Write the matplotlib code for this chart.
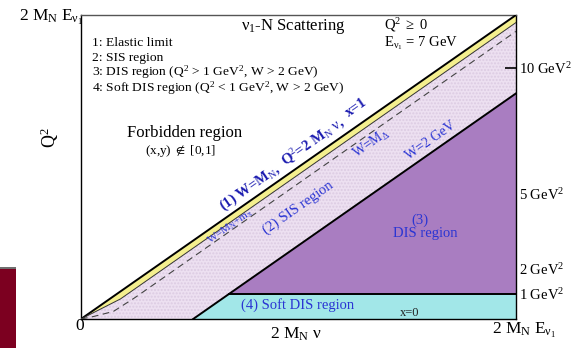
import matplotlib
matplotlib.use("Agg")
import matplotlib.pyplot as plt
from matplotlib.patches import Polygon, Rectangle

plt.rcParams['font.family'] = ['Liberation Serif', 'DejaVu Serif']
plt.rcParams['mathtext.fontset'] = 'custom'
plt.rcParams['mathtext.rm'] = 'Liberation Serif'
plt.rcParams['mathtext.it'] = 'Liberation Serif:italic'
plt.rcParams['mathtext.bf'] = 'Liberation Serif:bold'

# ---- data (GeV^2 units) ----
q2_max = 12.1                      # axis extent (2 M_N E_nu)
elastic_x = [0.0, 12.1]            # Q^2 = 2 M_N nu (x = 1)
elastic_y = [0.0, 12.1]
elastic_low_x = [0.0, 1.1, 12.1]   # lower edge of elastic band
elastic_low_y = [0.0, 0.80, 11.80]
delta_x = [0.0, 0.35, 0.9, 1.5, 12.1]   # dashed W = M_Delta line
delta_y = [0.0, 0.10, 0.30, 0.85, 11.45]
w2_x = [3.12, 12.1]                # W = 2 GeV line
w2_y = [0.0, 8.98]
q2_cut = 1.0                       # Q^2 = 1 GeV^2
tick_vals = [1, 2, 5, 10]
tick_labels = [r'1 GeV$^2$', r'2 GeV$^2$', r'5 GeV$^2$', r'10 GeV$^2$']

# ---- colours ----
c_yellow = '#f4ef8e'
c_pink = '#ede0f1'
c_purple = '#a97dc1'
c_cyan = '#a2e7e8'
c_blue = '#2b35d3'
c_dblue = '#1c1cb0'

fig = plt.figure(figsize=(5.71, 3.48), dpi=100)
ax = fig.add_axes([81/571, 1-319/348, 435/571, 304/348])
ax.set_xlim(0, q2_max)
ax.set_ylim(0, q2_max)

# slide artifact at the left
fig.patches.append(Rectangle((0, 0), 16/571, 79/348, transform=fig.transFigure,
                             facecolor='#7c0020', edgecolor='none', zorder=0))
fig.patches.append(Rectangle((0, 79/348), 16/571, 2/348, transform=fig.transFigure,
                             facecolor='#6f6f6f', edgecolor='none', zorder=0))

# SIS region (pink)
x_w2_q1 = w2_x[0] + q2_cut * (w2_x[1]-w2_x[0]) / (w2_y[1]-w2_y[0])
sis = list(zip(elastic_low_x, elastic_low_y)) + [(w2_x[1], w2_y[1]), (w2_x[0], w2_y[0])]
ax.add_patch(Polygon(sis, closed=True, facecolor=c_pink, edgecolor='none', zorder=1))
ax.add_patch(Polygon(sis, closed=True, facecolor='none', edgecolor='#dccbe2',
                     hatch='.....', linewidth=0, zorder=1))

# elastic band (yellow)
band = list(zip(elastic_x, elastic_y)) + list(zip(elastic_low_x, elastic_low_y))[::-1]
ax.add_patch(Polygon(band, closed=True, facecolor=c_yellow, edgecolor='none', zorder=2))
ax.plot(elastic_x, elastic_y, color='black', lw=1.4, zorder=3)
ax.plot(elastic_low_x, elastic_low_y, color='#333333', lw=0.7, zorder=3)

# dashed W = M_Delta
ax.plot(delta_x, delta_y, color='#444444', lw=0.8, ls=(0, (6, 4)), zorder=3)

# DIS region (purple)
dis = [(x_w2_q1, q2_cut), (w2_x[1], w2_y[1]), (w2_x[1], q2_cut)]
ax.add_patch(Polygon(dis, closed=True, facecolor=c_purple, edgecolor='none', zorder=2))
# soft DIS region (cyan)
soft = [(w2_x[0], 0), (x_w2_q1, q2_cut), (w2_x[1], q2_cut), (w2_x[1], 0)]
ax.add_patch(Polygon(soft, closed=True, facecolor=c_cyan, edgecolor='none', zorder=2))
ax.plot(w2_x, w2_y, color='black', lw=1.4, zorder=3)
ax.plot([x_w2_q1, w2_x[1]], [q2_cut, q2_cut], color='black', lw=1.4, zorder=3)

# axes styling
for s in ax.spines.values():
    s.set_linewidth(1.0)
ax.spines['top'].set_color('#555555')
ax.set_xticks([])
ax.yaxis.tick_right()
ax.set_yticks(tick_vals)
ax.set_yticklabels(tick_labels)
ax.tick_params(axis='y', direction='in', length=8, width=1.2, pad=2,
               labelsize=10.5, right=True, left=False)

# text
def fx(px):
    return px / 571
def fy(py):
    return 1 - py / 348

fig.text(fx(51), fy(17), r'2 M$_\mathrm{N}$ E$_{\mathrm{\nu_1}}$', fontsize=12.5,
         ha='center', va='center')
fig.text(fx(50), fy(138), r'Q$^2$', fontsize=13, rotation=90, ha='center', va='center')
fig.text(fx(80), fy(326), '0', fontsize=12.5, ha='center', va='center')
fig.text(fx(296), fy(334), r'2 M$_\mathrm{N}$ $\mathrm{\nu}$', fontsize=12.5,
         ha='center', va='center')
fig.text(fx(524), fy(330), r'2 M$_\mathrm{N}$ E$_{\mathrm{\nu_1}}$', fontsize=12.5,
         ha='center', va='center')

fig.text(fx(293), fy(27), r'$\mathrm{\nu_1}$-N Scattering', fontsize=12,
         ha='center', va='center')
fig.text(fx(384), fy(25), r'Q$^2$ $\geq$ 0', fontsize=10.5, ha='left', va='center')
fig.text(fx(384), fy(43), r'E$_{\mathrm{\nu_1}}$ = 7 GeV', fontsize=10.5, ha='left', va='center')

legend_lines = ['1: Elastic limit', '2: SIS region',
                r'3: DIS region (Q$^2$ > 1 GeV$^2$, W > 2 GeV)',
                r'4: Soft DIS region (Q$^2$ < 1 GeV$^2$, W > 2 GeV)']
legend_rows = [43, 57.5, 72, 88.5]
for t, r in zip(legend_lines, legend_rows):
    fig.text(fx(92), fy(r), t, fontsize=9.7, ha='left', va='center')

fig.text(fx(185), fy(133), 'Forbidden region', fontsize=12, ha='center', va='center')
fig.text(fx(181), fy(151), r'(x,y) $\notin$ [0,1]', fontsize=9.5, ha='center', va='center')

ang = 35
fig.text(fx(250), fy(188), r'(1) W=M$_\mathrm{N}$,', fontsize=10.5, fontweight='bold',
         color=c_dblue, rotation=ang, ha='center', va='center')
fig.text(fx(313), fy(142), r'Q$^2$=2 M$_\mathrm{N}$ $\mathrm{\nu}$,', fontsize=10.5,
         fontweight='bold', color=c_dblue, rotation=ang, ha='center', va='center')
fig.text(fx(356), fy(108), 'x=1', fontsize=10.5, fontweight='bold',
         color=c_dblue, rotation=ang, ha='center', va='center')
fig.text(fx(230), fy(227), r'W=M$_\mathrm{N}$+m$_\mathrm{\pi}$', fontsize=8,
         color=c_blue, rotation=ang, ha='center', va='center')
fig.text(fx(371), fy(144), r'W=M$_\mathrm{\Delta}$', fontsize=10,
         color=c_blue, rotation=ang, ha='center', va='center')
fig.text(fx(431), fy(141), 'W=2 GeV', fontsize=10,
         color=c_blue, rotation=ang, ha='center', va='center')
fig.text(fx(298), fy(208), '(2) SIS region', fontsize=10.5,
         color=c_blue, rotation=ang, ha='center', va='center')
fig.text(fx(420), fy(220), '(3)', fontsize=10.5, color=c_blue, ha='center', va='center')
fig.text(fx(425), fy(233), 'DIS region', fontsize=10.5, color=c_blue, ha='center', va='center')
fig.text(fx(298), fy(305), '(4) Soft DIS region', fontsize=10.5, color=c_blue,
         ha='center', va='center')
fig.text(fx(410), fy(313), 'x=0', fontsize=9, color='#222222', ha='center', va='center')

fig.savefig('out.png', dpi=100)
